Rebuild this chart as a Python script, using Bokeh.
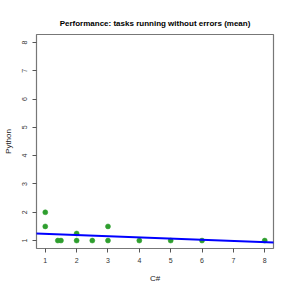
from bokeh.plotting import figure
from bokeh.models import Range1d, FixedTicker, Slope, ColumnDataSource
from bokeh.embed import file_html
from bokeh.resources import INLINE

# data
csharp = [1, 1, 1.4, 1.5, 2, 2, 2.5, 3, 3, 4, 5, 6, 8]
python = [2, 1.5, 1, 1, 1.25, 1, 1, 1.5, 1, 1, 1, 1, 1]
fit_intercept = 1.28
fit_slope = -0.042
x_ticks = [1, 2, 3, 4, 5, 6, 7, 8]
y_ticks = [1, 2, 3, 4, 5, 6, 7, 8]

FONT = "Liberation Sans"

p = figure(width=291, height=291, output_backend="svg", toolbar_location=None,
           x_range=Range1d(0.72, 8.28), y_range=Range1d(0.72, 8.28),
           min_border_left=34, min_border_right=18, min_border_top=34,
           min_border_bottom=43,
           title="Performance: tasks running without errors (mean)")
p.title.text_font = FONT
p.title.text_font_size = "8px"
p.title.text_font_style = "bold"
p.title.align = "center"
p.title.vertical_align = "top"
p.title.text_color = "black"

p.xgrid.visible = False
p.ygrid.visible = False
p.outline_line_color = "#777777"
p.outline_line_width = 1.2
p.outline_line_alpha = 1

for ax in (p.xaxis[0], p.yaxis[0]):
    ax.axis_line_color = None
    ax.major_tick_line_color = "#555555"
    ax.minor_tick_line_color = None
    ax.major_tick_in = 0
    ax.major_tick_out = 4
    ax.major_label_text_font = FONT
    ax.major_label_text_font_size = "7px"
    ax.major_label_text_color = "#333333"
    ax.axis_label_text_font = FONT
    ax.axis_label_text_font_size = "8px"
    ax.axis_label_text_font_style = "normal"
    ax.axis_label_text_color = "#222222"

p.xaxis.ticker = FixedTicker(ticks=x_ticks)
p.yaxis.ticker = FixedTicker(ticks=y_ticks)
p.xaxis.major_label_standoff = 5
p.yaxis.major_label_standoff = 5
p.yaxis.major_label_orientation = "vertical"
p.xaxis.axis_label = "C#"
p.yaxis.axis_label = "Python"
p.xaxis.axis_label_standoff = 8
p.yaxis.axis_label_standoff = 7

src = ColumnDataSource(dict(x=csharp, y=python))
p.scatter("x", "y", source=src, size=5, fill_color="#2e9e2e",
          line_color="#2e9e2e", line_width=0.5)

p.add_layout(Slope(gradient=fit_slope, y_intercept=fit_intercept,
                   line_color="#0000ff", line_width=2.2))

open("out.html", "w").write(file_html(p, INLINE))
